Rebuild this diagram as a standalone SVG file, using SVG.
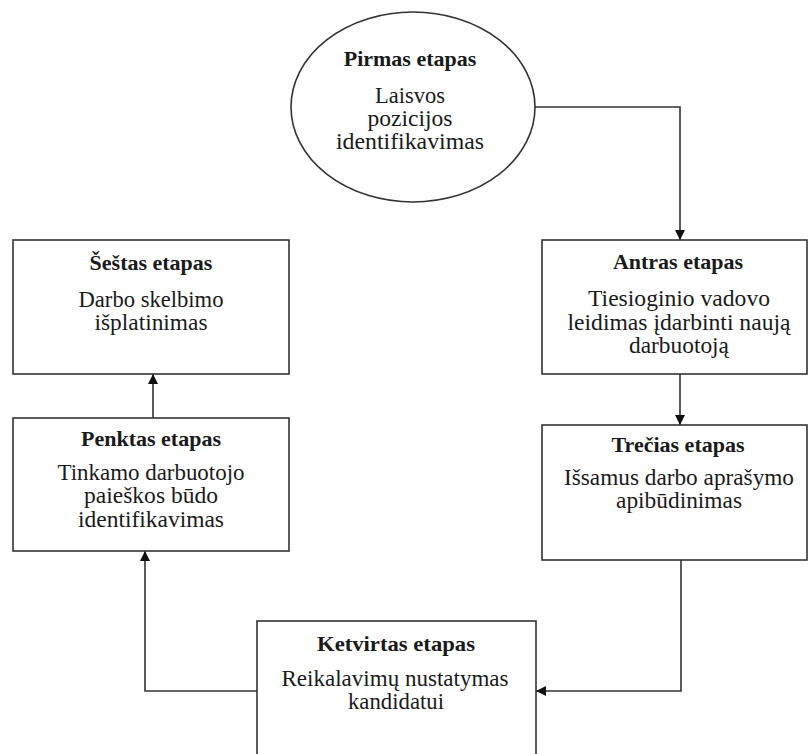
<svg xmlns="http://www.w3.org/2000/svg" width="809" height="754" viewBox="0 0 809 754">
<style>
.shape{fill:#fff;stroke:#333;stroke-width:1.6}
.conn{fill:none;stroke:#333;stroke-width:1.6}
</style>
<defs>
<marker id="arr" viewBox="0 0 10 10" refX="10" refY="5" markerWidth="10" markerHeight="10" markerUnits="userSpaceOnUse" orient="auto">
<path d="M0,0 L10,5 L0,10 z" fill="#111"/>
</marker>
</defs>
<rect width="809" height="754" fill="#fff"/>
<g id="connectors">
<path class="conn" d="M535,107 H680 V240" marker-end="url(#arr)"/>
<path class="conn" d="M680,374 V425" marker-end="url(#arr)"/>
<path class="conn" d="M681,560 V691 H536" marker-end="url(#arr)"/>
<path class="conn" d="M257,691 H145 V551" marker-end="url(#arr)"/>
<path class="conn" d="M153,418 V374" marker-end="url(#arr)"/>
</g>
<g font-family="'Liberation Serif', 'Times New Roman', serif" fill="#1a1a1a" text-anchor="middle">
<g id="pirmas">
<ellipse class="shape" cx="413" cy="107" rx="122" ry="95"/>
<text font-weight="bold" font-size="22" x="410" y="66">Pirmas etapas</text>
<text font-size="23" x="410" y="103" textLength="70" lengthAdjust="spacingAndGlyphs">Laisvos</text>
<text font-size="23" x="410" y="126" textLength="85" lengthAdjust="spacingAndGlyphs">pozicijos</text>
<text font-size="23" x="410" y="149" textLength="148" lengthAdjust="spacingAndGlyphs">identifikavimas</text>
</g>
<g id="antras">
<rect class="shape" x="542" y="240" width="265" height="134"/>
<text font-weight="bold" font-size="22" x="678" y="269">Antras etapas</text>
<text font-size="23" x="679" y="306" textLength="182" lengthAdjust="spacingAndGlyphs">Tiesioginio vadovo</text>
<text font-size="23" x="679" y="330" textLength="223" lengthAdjust="spacingAndGlyphs">leidimas įdarbinti naują</text>
<text font-size="23" x="679" y="353" textLength="100" lengthAdjust="spacingAndGlyphs">darbuotoją</text>
</g>
<g id="trecias">
<rect class="shape" x="542" y="425" width="265" height="135"/>
<text font-weight="bold" font-size="22" x="678" y="452">Trečias etapas</text>
<text font-size="23" x="679" y="485" textLength="230" lengthAdjust="spacingAndGlyphs">Išsamus darbo aprašymo</text>
<text font-size="23" x="679" y="508" textLength="126" lengthAdjust="spacingAndGlyphs">apibūdinimas</text>
</g>
<g id="ketvirtas">
<rect class="shape" x="257" y="621" width="279" height="145"/>
<text font-weight="bold" font-size="22" x="396" y="651" textLength="158" lengthAdjust="spacingAndGlyphs">Ketvirtas etapas</text>
<text font-size="23" x="395" y="686" textLength="227" lengthAdjust="spacingAndGlyphs">Reikalavimų nustatymas</text>
<text font-size="23" x="396" y="709" textLength="96" lengthAdjust="spacingAndGlyphs">kandidatui</text>
</g>
<g id="penktas">
<rect class="shape" x="13" y="418" width="276" height="133"/>
<text font-weight="bold" font-size="22" x="151" y="446">Penktas etapas</text>
<text font-size="23" x="151" y="480" textLength="187" lengthAdjust="spacingAndGlyphs">Tinkamo darbuotojo</text>
<text font-size="23" x="151" y="503" textLength="134" lengthAdjust="spacingAndGlyphs">paieškos būdo</text>
<text font-size="23" x="151" y="527" textLength="146" lengthAdjust="spacingAndGlyphs">identifikavimas</text>
</g>
<g id="sestas">
<rect class="shape" x="13" y="240" width="276" height="134"/>
<text font-weight="bold" font-size="22" x="151" y="270">Šeštas etapas</text>
<text font-size="23" x="151" y="307" textLength="145" lengthAdjust="spacingAndGlyphs">Darbo skelbimo</text>
<text font-size="23" x="151" y="330" textLength="113" lengthAdjust="spacingAndGlyphs">išplatinimas</text>
</g>
</g>
</svg>
